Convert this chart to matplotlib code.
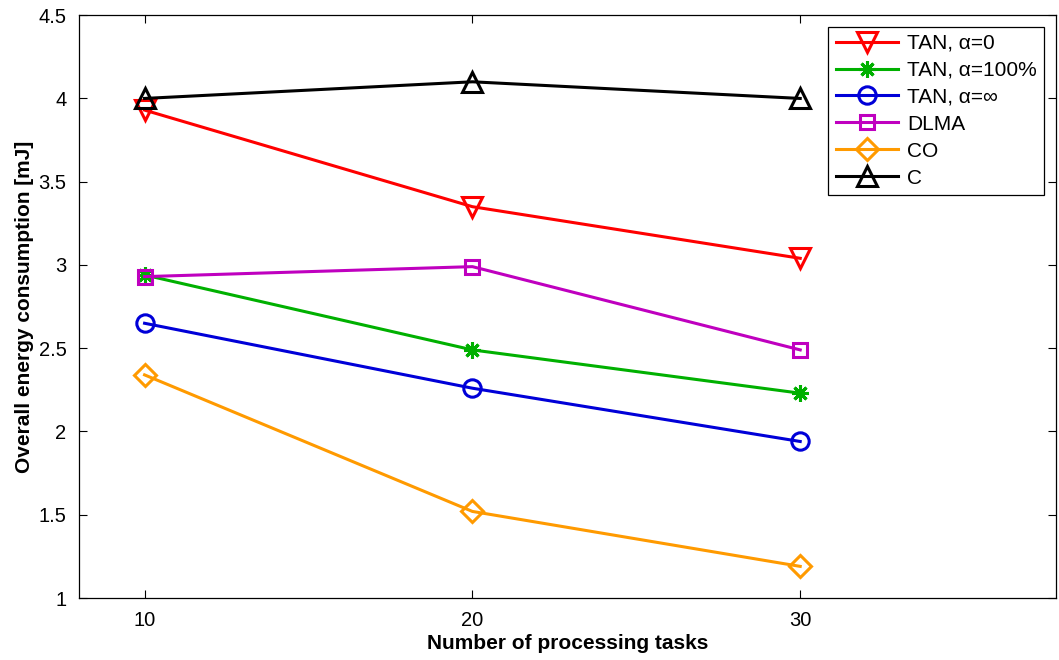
import matplotlib
matplotlib.use("Agg")
import matplotlib.pyplot as plt

plt.rcParams["font.family"] = ["Liberation Sans", "DejaVu Sans"]

tasks = [10, 20, 30]
tan_a0 = [3.93, 3.35, 3.04]
tan_a100 = [2.94, 2.49, 2.23]
tan_inf = [2.65, 2.26, 1.94]
dlma = [2.93, 2.99, 2.49]
co = [2.34, 1.52, 1.19]
c_vals = [4.00, 4.10, 4.00]

# label, data, colour, marker, marker size
series = [
    ("TAN, α=0", tan_a0, "#ff0000", "v", 14),
    ("TAN, α=100%", tan_a100, "#00b000", (8, 2, 0), 12),
    ("TAN, α=∞", tan_inf, "#0000d8", "o", 12.5),
    ("DLMA", dlma, "#bf00bf", "s", 10.5),
    ("CO", co, "#ff9a00", "D", 11),
    ("C", c_vals, "#000000", "^", 14),
]

fig = plt.figure(figsize=(10.59, 6.6), dpi=100)
ax = fig.add_axes([0.0746, 0.0939, 0.9225, 0.8831])

for label, vals, color, marker, size in series:
    ax.plot(tasks, vals, color=color, lw=2.2, marker=marker, ms=size,
            mfc="none", mec=color, mew=2.2, label=label)

ax.set_xlim(8, 37.8)
ax.set_ylim(1, 4.5)
ax.set_xticks([10, 20, 30])
ax.set_yticks([1, 1.5, 2, 2.5, 3, 3.5, 4, 4.5])
ax.set_yticklabels(["1", "1.5", "2", "2.5", "3", "3.5", "4", "4.5"])
ax.tick_params(direction="in", length=6, width=0.8, labelsize=14.5,
               top=True, right=True, pad=9)
for sp in ax.spines.values():
    sp.set_linewidth(0.9)

ax.set_xlabel("Number of processing tasks", fontsize=15, fontweight="bold",
              labelpad=3)
ax.set_ylabel("Overall energy consumption [mJ]", fontsize=15,
              fontweight="bold", labelpad=3)

leg = ax.legend(loc="upper right", fontsize=15, frameon=True, fancybox=False,
                edgecolor="black", framealpha=1, borderpad=0.35,
                labelspacing=0.38, handlelength=3.0, handletextpad=0.45,
                borderaxespad=0.55)
leg.get_frame().set_linewidth(0.9)

fig.savefig("out.png", dpi=100)
